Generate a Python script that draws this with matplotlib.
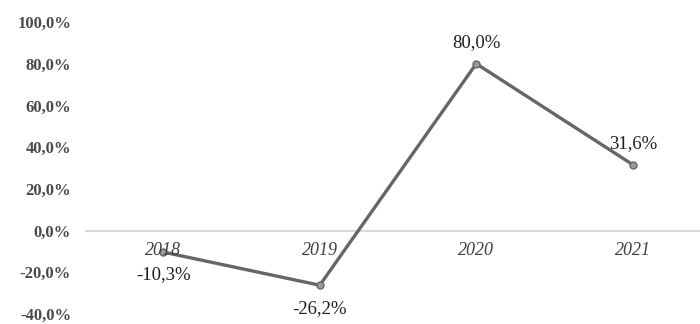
import matplotlib
matplotlib.use("Agg")
import matplotlib.pyplot as plt
from matplotlib.ticker import FuncFormatter

plt.rcParams['font.family'] = ['Liberation Serif', 'DejaVu Serif']

years = ['2018', '2019', '2020', '2021']
growth = [-10.3, -26.2, 80.0, 31.6]
label_pos = ['below', 'below', 'above', 'above']

fig = plt.figure(figsize=(7, 3.24), dpi=100)
ax = fig.add_axes([85 / 700, 10 / 324, 626 / 700, 292 / 324])

x = list(range(len(years)))
ax.plot(x, growth, color='#666666', linewidth=2.4, marker='o', markersize=5,
        markerfacecolor='#9a9a9a', markeredgecolor='#666666', zorder=3)

ax.set_xlim(-0.5, 3.5)
ax.set_ylim(-40, 100)
ax.set_yticks(range(-40, 101, 20))
ax.yaxis.set_major_formatter(FuncFormatter(lambda v, p: f"{v:.1f}%".replace('.', ',')))
ax.tick_params(axis='y', length=0, pad=10, labelsize=12, labelcolor='#4a4a4a')
for t in ax.get_yticklabels():
    t.set_fontweight('bold')

ax.set_xticks([])
ax.axhline(0, color='#d9d9d9', linewidth=1.5, zorder=1)
for s in ax.spines.values():
    s.set_visible(False)

# category labels sit just under the zero line
for i, yr in enumerate(years):
    ax.annotate(yr, (i, 0), xytext=(0, -14), textcoords='offset points',
                ha='center', va='center', fontsize=13, style='italic',
                color='#404040', zorder=4)

for i, v in enumerate(growth):
    txt = f"{v:.1f}%".replace('.', ',')
    if label_pos[i] == 'below':
        off = (0, -16) if i == 0 else (0, -17)
    else:
        off = (0, 15)
    ax.annotate(txt, (i, v), xytext=off, textcoords='offset points',
                ha='center', va='center', fontsize=13.5, color='#1f1f1f', zorder=4)

fig.savefig('out.png', dpi=100)
